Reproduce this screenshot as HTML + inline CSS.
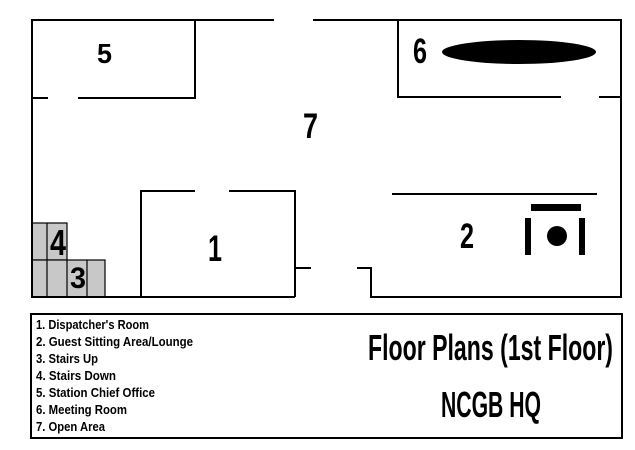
<!DOCTYPE html>
<html><head><meta charset="utf-8"><style>
html,body{margin:0;padding:0;background:#fff;width:635px;height:450px;overflow:hidden}
svg text{font-family:"Liberation Sans Narrow","Liberation Sans",sans-serif;font-weight:bold;fill:#000}
</style></head><body>
<svg width="635" height="450" viewBox="0 0 635 450" xmlns="http://www.w3.org/2000/svg">
<g stroke="#000" stroke-width="2" fill="none">
<rect x="32" y="223" width="35" height="37" fill="#c8c8c8" stroke-width="1.2"/>
<rect x="32" y="260" width="73" height="37" fill="#c8c8c8" stroke-width="1.2"/>
<line x1="47" y1="223" x2="47" y2="297" stroke-width="1.2"/>
<line x1="67" y1="260" x2="67" y2="297" stroke-width="1.2"/>
<line x1="87" y1="260" x2="87" y2="297" stroke-width="1.2"/>
<polyline points="274,20 32,20 32,297 295,297"/>
<polyline points="313,20 621,20 621,297 371,297 371,268 357,268"/>
<line x1="295" y1="268" x2="311" y2="268"/>
<polyline points="195,20 195,98 78,98"/>
<line x1="32" y1="98" x2="48" y2="98"/>
<polyline points="195,191 141,191 141,297"/>
<polyline points="229,191 295,191 295,297"/>
<polyline points="398,20 398,97 561,97"/>
<line x1="599" y1="97" x2="621" y2="97"/>
<line x1="392" y1="194" x2="597" y2="194"/>
</g>
<ellipse cx="519" cy="52" rx="77" ry="12" fill="#000"/>
<rect x="531" y="204" width="50" height="7" fill="#000"/>
<rect x="525" y="218" width="6" height="37" fill="#000"/>
<rect x="579" y="218" width="6" height="37" fill="#000"/>
<circle cx="557" cy="236" r="10" fill="#000"/>
<text x="97" y="63" font-size="28" textLength="15" lengthAdjust="spacingAndGlyphs">5</text>
<text x="303" y="138" font-size="35" textLength="15" lengthAdjust="spacingAndGlyphs">7</text>
<text x="413" y="63" font-size="35" textLength="14" lengthAdjust="spacingAndGlyphs">6</text>
<text x="208" y="261" font-size="37" textLength="14" lengthAdjust="spacingAndGlyphs">1</text>
<text x="460" y="248" font-size="35" textLength="14" lengthAdjust="spacingAndGlyphs">2</text>
<text x="50" y="255" font-size="36" textLength="16" lengthAdjust="spacingAndGlyphs">4</text>
<text x="70" y="288" font-size="30" textLength="16" lengthAdjust="spacingAndGlyphs">3</text>
<rect x="31" y="314" width="591" height="124" fill="none" stroke="#000" stroke-width="2"/>
<g font-size="13">
<text x="36" y="329" textLength="113" lengthAdjust="spacingAndGlyphs">1. Dispatcher's Room</text>
<text x="36" y="346" textLength="157" lengthAdjust="spacingAndGlyphs">2. Guest Sitting Area/Lounge</text>
<text x="36" y="363" textLength="62" lengthAdjust="spacingAndGlyphs">3. Stairs Up</text>
<text x="36" y="380" textLength="80" lengthAdjust="spacingAndGlyphs">4. Stairs Down</text>
<text x="36" y="397" textLength="119" lengthAdjust="spacingAndGlyphs">5. Station Chief Office</text>
<text x="36" y="414" textLength="91" lengthAdjust="spacingAndGlyphs">6. Meeting Room</text>
<text x="36" y="431" textLength="69" lengthAdjust="spacingAndGlyphs">7. Open Area</text>
</g>
<text x="368" y="360" font-size="36" textLength="245" lengthAdjust="spacingAndGlyphs">Floor Plans (1st Floor)</text>
<text x="441" y="417" font-size="36" textLength="100" lengthAdjust="spacingAndGlyphs">NCGB HQ</text>
</svg>
</body></html>
